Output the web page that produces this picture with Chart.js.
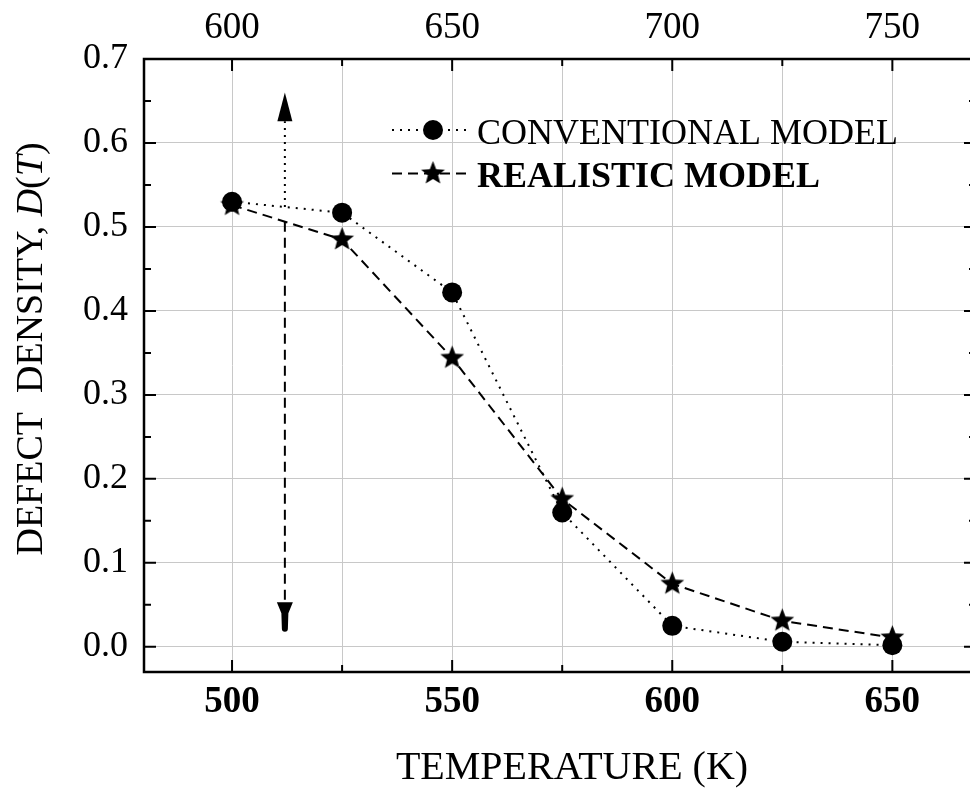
<!DOCTYPE html>
<html>
<head>
<meta charset="utf-8">
<script src="https://cdn.jsdelivr.net/npm/chart.js@4.4.1/dist/chart.umd.min.js"></script>
<style>
  html, body { margin: 0; padding: 0; background: #fff; overflow: hidden; width: 970px; height: 792px; }
  #wrap { width: 980px; height: 792px; }
  canvas { display: block; width: 980px; height: 792px; }
</style>
</head>
<body>
<div id="wrap"><canvas id="defects" width="980" height="792"></canvas></div>
<script>
const temperatures = [500, 525, 550, 575, 600, 625, 650];
const conventional = [0.530, 0.517, 0.422, 0.160, 0.025, 0.006, 0.002];
const realistic = [0.526, 0.485, 0.344, 0.176, 0.075, 0.031, 0.011];
const seriesNames = ['CONVENTIONAL MODEL', 'REALISTIC MODEL'];

const xTicks = [500, 525, 550, 575, 600, 625, 650];
const topTicks = [600, 625, 650, 675, 700, 725, 750];
const yTicks = [0, 0.1, 0.2, 0.3, 0.4, 0.5, 0.6, 0.7];

const xTitle = 'TEMPERATURE (K)';
const yTitle = [['DEFECT  DENSITY, ', ''], ['D', 'italic '], ['(', ''], ['T', 'italic '], [')', '']];

// double arrow marking T = 512 K
const arrowT = 512;
const arrowUpTip = 0.66;
const arrowUpBase = 0.626;
const arrowDownBase = 0.053;
const arrowDownTip = 0.018;

const SERIF = "'Liberation Serif', 'Times New Roman', serif";

function makeStar(R, r) {
  const c = document.createElement('canvas');
  const s = Math.ceil(R * 2) + 2;
  c.width = c.height = s;
  const g = c.getContext('2d');
  g.translate(s / 2, s / 2);
  g.beginPath();
  for (let i = 0; i < 10; i++) {
    const rad = i % 2 ? r : R;
    const a = -Math.PI / 2 + i * Math.PI / 5;
    g.lineTo(rad * Math.cos(a), rad * Math.sin(a));
  }
  g.closePath();
  g.fillStyle = '#000';
  g.fill();
  return c;
}
const starMark = makeStar(12.5, 5.4);

// value of a series at temperature t, straight line between points
function valueAt(series, t) {
  for (let i = 0; i < temperatures.length - 1; i++) {
    const a = temperatures[i], b = temperatures[i + 1];
    if (t >= a && t <= b) return series[i] + (series[i + 1] - series[i]) * (t - a) / (b - a);
  }
  return null;
}

const framePlugin = {
  id: 'frame',
  afterDraw(chart) {
    const { ctx, chartArea: a, scales } = chart;
    ctx.save();
    ctx.strokeStyle = '#000';
    ctx.lineWidth = 2;
    ctx.beginPath();
    xTicks.forEach(v => {
      const px = scales.x.getPixelForValue(v);
      const len = v % 50 === 0 ? 12 : 7;
      ctx.moveTo(px, a.bottom); ctx.lineTo(px, a.bottom - len);
    });
    topTicks.forEach(v => {
      const px = scales.x2.getPixelForValue(v);
      const len = v % 50 === 0 ? 12 : 7;
      ctx.moveTo(px, a.top); ctx.lineTo(px, a.top + len);
    });
    const minor = yTicks.slice(1).map((v, i) => (v + yTicks[i]) / 2);
    [[yTicks, 12], [minor, 7]].forEach(([vals, len]) => {
      vals.forEach(v => {
        const py = scales.y.getPixelForValue(v);
        ctx.moveTo(a.left, py); ctx.lineTo(a.left + len, py);
        ctx.moveTo(a.right, py); ctx.lineTo(a.right - len, py);
      });
    });
    ctx.stroke();
    ctx.lineWidth = 2.5;
    ctx.strokeRect(a.left, a.top, a.right - a.left, a.bottom - a.top);
    ctx.restore();
  }
};

const notesPlugin = {
  id: 'notes',
  afterDatasetsDraw(chart) {
    const { ctx, scales } = chart;
    const ds = chart.data.datasets;
    ctx.save();
    ctx.fillStyle = '#000';
    ctx.strokeStyle = '#000';

    // arrow
    const ax = scales.x.getPixelForValue(arrowT);
    const yUpStart = scales.y.getPixelForValue(valueAt(conventional, arrowT));
    const yUpBase = scales.y.getPixelForValue(arrowUpBase);
    const yUpTip = scales.y.getPixelForValue(arrowUpTip);
    ctx.lineWidth = 2;
    ctx.setLineDash([2, 5]);
    ctx.beginPath(); ctx.moveTo(ax, yUpStart); ctx.lineTo(ax, yUpBase); ctx.stroke();
    ctx.setLineDash([]);
    ctx.beginPath();
    ctx.moveTo(ax, yUpTip); ctx.lineTo(ax + 7.5, yUpBase); ctx.lineTo(ax - 7.5, yUpBase);
    ctx.closePath(); ctx.fill();

    const yDnStart = scales.y.getPixelForValue(valueAt(realistic, arrowT));
    const yDnBase = scales.y.getPixelForValue(arrowDownBase);
    const yDnTip = scales.y.getPixelForValue(arrowDownTip);
    ctx.setLineDash([10, 6]);
    ctx.beginPath(); ctx.moveTo(ax, yDnStart); ctx.lineTo(ax, yDnBase); ctx.stroke();
    ctx.setLineDash([]);
    ctx.beginPath();
    ctx.moveTo(ax - 8, yDnBase); ctx.lineTo(ax + 8, yDnBase);
    ctx.lineTo(ax + 3.5, yDnBase + 11); ctx.lineTo(ax + 3, yDnTip - 3);
    ctx.arc(ax, yDnTip - 3, 3, 0, Math.PI);
    ctx.lineTo(ax - 3.5, yDnBase + 11);
    ctx.closePath(); ctx.fill();

    // legend
    ds.forEach((d, i) => {
      const y = 130 + i * 43.5;
      ctx.lineWidth = d.borderWidth;
      ctx.setLineDash(d.borderDash);
      ctx.beginPath(); ctx.moveTo(392, y); ctx.lineTo(468, y); ctx.stroke();
      ctx.setLineDash([]);
      if (d.pointStyle === 'circle') {
        ctx.beginPath(); ctx.arc(433, y, d.pointRadius, 0, Math.PI * 2); ctx.fill();
      } else {
        ctx.drawImage(d.pointStyle, 433 - d.pointStyle.width / 2, y - d.pointStyle.height / 2);
      }
      ctx.font = (i === 1 ? 'bold ' : '') + '36px ' + SERIF;
      ctx.textAlign = 'left';
      ctx.textBaseline = 'alphabetic';
      ctx.fillText(d.label, 477, y + 13.5);
    });

    // axis titles
    ctx.font = '40px ' + SERIF;
    ctx.textAlign = 'center';
    ctx.fillText(xTitle, 572, 779);

    ctx.translate(42, 349);
    ctx.rotate(-Math.PI / 2);
    ctx.textAlign = 'left';
    const widths = yTitle.map(([t, st]) => { ctx.font = st + '38px ' + SERIF; return ctx.measureText(t).width; });
    let x = -widths.reduce((s, w) => s + w, 0) / 2;
    yTitle.forEach(([t, st], i) => {
      ctx.font = st + '38px ' + SERIF;
      ctx.fillText(t, x, 0);
      x += widths[i];
    });
    ctx.restore();
  }
};

new Chart(document.getElementById('defects'), {
  type: 'line',
  data: {
    datasets: [
      {
        label: seriesNames[0],
        data: temperatures.map((t, i) => ({ x: t, y: conventional[i] })),
        borderColor: '#000', backgroundColor: '#000',
        borderWidth: 2, borderDash: [2, 6],
        pointStyle: 'circle', pointRadius: 10, pointBorderWidth: 0,
        tension: 0, fill: false, order: 0
      },
      {
        label: seriesNames[1],
        data: temperatures.map((t, i) => ({ x: t, y: realistic[i] })),
        borderColor: '#000', backgroundColor: '#000',
        borderWidth: 2, borderDash: [10, 6],
        pointStyle: starMark, pointRadius: 12, pointBorderWidth: 0,
        tension: 0, fill: false, order: 1
      }
    ]
  },
  options: {
    responsive: false,
    animation: false,
    devicePixelRatio: 1,
    layout: { autoPadding: false, padding: { left: 0, top: 0, right: 4, bottom: 0 } },
    plugins: { legend: { display: false }, tooltip: { enabled: false } },
    scales: {
      x: {
        type: 'linear', position: 'bottom', min: 480, max: 669,
        afterBuildTicks: s => { s.ticks = xTicks.map(v => ({ value: v })); },
        afterFit: s => { s.height = 120; s.paddingLeft = 0; s.paddingRight = 0; },
        grid: { color: '#c8c8c8', lineWidth: 1, drawTicks: false },
        border: { display: false },
        ticks: {
          padding: 8, color: '#000', maxRotation: 0, autoSkip: false,
          font: { family: SERIF, size: 37, weight: 'bold' },
          callback: v => v % 50 === 0 ? String(v) : ''
        }
      },
      x2: {
        type: 'linear', position: 'top', min: 580, max: 769,
        afterBuildTicks: s => { s.ticks = topTicks.map(v => ({ value: v })); },
        afterFit: s => { s.height = 59; s.paddingLeft = 0; s.paddingRight = 0; },
        grid: { display: false, drawTicks: false },
        border: { display: false },
        ticks: {
          padding: 9, color: '#000', maxRotation: 0, autoSkip: false,
          font: { family: SERIF, size: 37 },
          callback: v => v % 50 === 0 ? String(v) : ''
        }
      },
      y: {
        type: 'linear', position: 'left', min: -0.03, max: 0.7,
        afterBuildTicks: s => { s.ticks = yTicks.map(v => ({ value: v })); },
        afterFit: s => { s.width = 144; s.paddingTop = 0; s.paddingBottom = 0; },
        grid: { color: '#c8c8c8', lineWidth: 1, drawTicks: false },
        border: { display: false },
        ticks: {
          padding: 16, color: '#000',
          font: { family: SERIF, size: 36 },
          callback: v => v.toFixed(1)
        }
      }
    }
  },
  plugins: [framePlugin, notesPlugin]
});
</script>
</body>
</html>
